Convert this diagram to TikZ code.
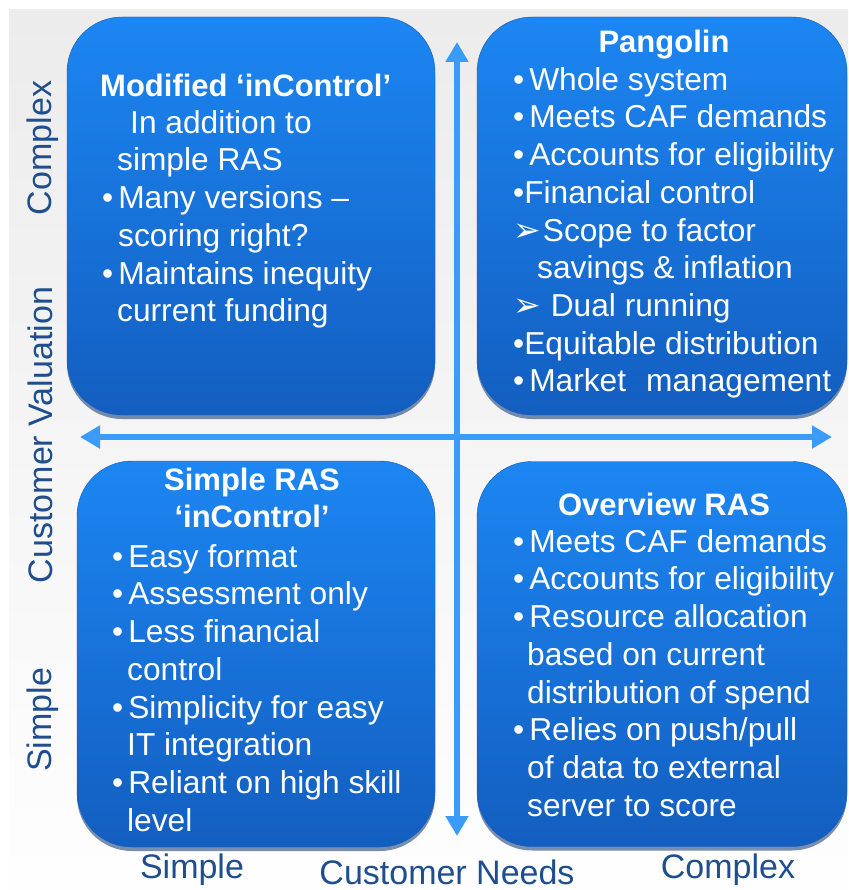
\documentclass[tikz,border=0pt]{standalone}
\usepackage{fontspec}
\setmainfont{Liberation Sans}
\newfontfamily\symfont{DejaVu Sans}
\usepackage{tikz}
\usetikzlibrary{arrows.meta,shadows}

\definecolor{QuadTop}{HTML}{1C86F2}
\definecolor{QuadBottom}{HTML}{135EC0}
\definecolor{QuadEdge}{HTML}{1558B4}
\definecolor{QuadShadow}{HTML}{0A3470}
\definecolor{AxisBlue}{HTML}{3A9CF8}
\definecolor{LabelBlue}{HTML}{1E4E8E}
\definecolor{BackGrey}{HTML}{ECECEC}

\newcommand{\bodyfont}{\fontsize{31.7}{37.7}\selectfont}
\newcommand{\titlefont}{\fontsize{31}{37.7}\selectfont\bfseries}
\newcommand{\labelfont}{\fontsize{34}{40}\selectfont}
\newcommand{\bul}{•\hspace{5pt}}
\newcommand{\pointer}{{\symfont\fontsize{33}{33}\selectfont ➢}\hspace{2pt}}
\newcommand{\firstline}{\rule{0pt}{24pt}}

\tikzset{
  % Quadrant box
  quad/.style={rectangle,rounded corners=55pt,draw=QuadEdge,thin,
               top color=QuadTop,bottom color=QuadBottom,
               drop shadow={shadow xshift=0pt,shadow yshift=-4pt,
                            opacity=0.55,fill=QuadShadow}},
  % Text in the boxes
  qtitle/.style={anchor=base,inner sep=0pt,text=white,font=\titlefont},
  qbody/.style={anchor=north west,inner sep=0pt,align=left,text=white,font=\bodyfont},
  % Axes
  axis/.style={{Triangle[width=22pt,length=20pt]}-{Triangle[width=22pt,length=20pt]},
               line width=6pt,AxisBlue},
  axlabel/.style={anchor=base,inner sep=0pt,text=LabelBlue,font=\labelfont}
}

\begin{document}
\begin{tikzpicture}[x=1pt,y=-1pt]
  \useasboundingbox (0,0) rectangle (848,890);
  \fill[top color=BackGrey,bottom color=white!96!BackGrey] (9,10) rectangle (848,890);

  % quadrants
  \node[quad,minimum width=368pt,minimum height=398pt] (modified)  at (251,216) {};
  \node[quad,minimum width=370pt,minimum height=398pt] (pangolin)  at (662,216) {};
  \node[quad,minimum width=358pt,minimum height=386pt] (simpleras) at (256,654) {};
  \node[quad,minimum width=370pt,minimum height=385pt] (overview)  at (662,654) {};

  % axes
  \coordinate (vtop)   at (457,42);
  \coordinate (vbot)   at (457,836);
  \coordinate (hleft)  at (80,437);
  \coordinate (hright) at (832,437);
  \draw[axis] (vtop) -- (vbot);
  \draw[axis] (hleft) -- (hright);

  % top left
  \node[qtitle,anchor=base west] (modtitle) at (100,97) {Modified ‘inControl’};
  \node[qbody] (modtxt) at (102,109) {\firstline\hspace*{28pt}In addition to\\
    \hspace*{15pt}simple RAS\\
    \bul Many versions –\\
    \hspace*{16pt}scoring right?\\
    \bul Maintains inequity\\
    \hspace*{15pt}current funding};

  % top right
  \node[qtitle] (pangtitle) at (664,53) {Pangolin};
  \node[qbody] (pangtxt) at (513,66) {\firstline\bul Whole system\\
    \bul Meets CAF demands\\
    \bul Accounts for eligibility\\
    •Financial control\\
    \pointer Scope to factor\\
    \hspace*{24pt}savings \& inflation\\
    \pointer\hspace{8pt}Dual running\\
    •Equitable distribution\\
    \bul Market\hspace{20pt}management};

  % bottom left
  \node[qtitle] (srastitle)  at (252,490) {Simple RAS};
  \node[qtitle] (srastitle2) at (252,527) {‘inControl’};
  \node[qbody] (srastxt) at (112,543) {\firstline\bul Easy format\\
    \bul Assessment only\\
    \bul Less financial\\
    \hspace*{15pt}control\\
    \bul Simplicity for easy\\
    \hspace*{15pt}IT integration\\
    \bul Reliant on high skill\\
    \hspace*{15pt}level};

  % bottom right
  \node[qtitle] (ovtitle) at (664,515) {Overview RAS};
  \node[qbody] (ovtxt) at (513,528) {\firstline\bul Meets CAF demands\\
    \bul Accounts for eligibility\\
    \bul Resource allocation\\
    \hspace*{14pt}based on current\\
    \hspace*{14pt}distribution of spend\\
    \bul Relies on push/pull\\
    \hspace*{14pt}of data to external\\
    \hspace*{14pt}server to score};

  % axis labels
  \node[axlabel,rotate=90] (valhigh) at (51,148) {Complex};
  \node[axlabel,rotate=90] (valname) at (52,435) {Customer Valuation};
  \node[axlabel,rotate=90] (vallow)  at (51,720) {Simple};
  \node[axlabel] (needlow)  at (192,878) {Simple};
  \node[axlabel] (needname) at (447,884) {Customer Needs};
  \node[axlabel] (needhigh) at (728,878) {Complex};
\end{tikzpicture}
\end{document}
